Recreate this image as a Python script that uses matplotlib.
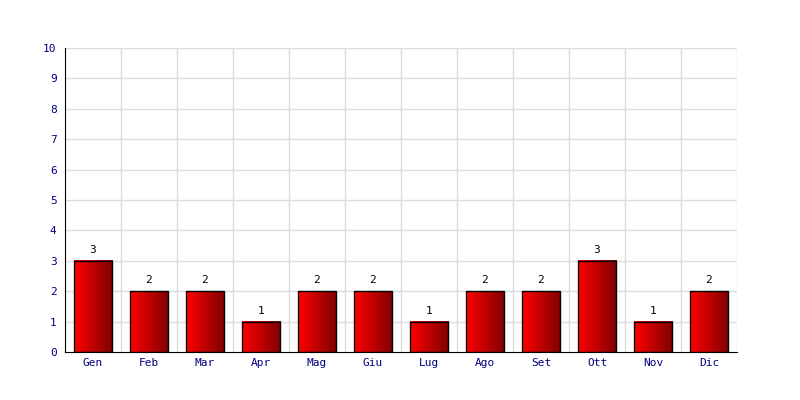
import numpy as np
import matplotlib.pyplot as plt
from matplotlib.colors import LinearSegmentedColormap

months = ['Gen', 'Feb', 'Mar', 'Apr', 'Mag', 'Giu', 'Lug', 'Ago', 'Set', 'Ott', 'Nov', 'Dic']
values = [3, 2, 2, 1, 2, 2, 1, 2, 2, 3, 1, 2]
yticks = list(range(0, 11))

fig = plt.figure(figsize=(8, 4), dpi=100)
ax = fig.add_axes([65/800, 48/400, 672/800, 304/400])

ax.set_xlim(0, 12)
ax.set_ylim(0, 10)

# grid
for y in yticks[1:]:
    ax.axhline(y, color='#dddddd', lw=1, zorder=0)
for x in range(1, 13):
    ax.axvline(x, color='#dddddd', lw=1, zorder=0)

cmap = LinearSegmentedColormap.from_list('redgrad', ['#ff0000', '#800000'])
grad = np.linspace(0, 1, 256).reshape(1, -1)
w = 0.68
for i, v in enumerate(values):
    x0 = i + 0.5 - w/2
    ax.imshow(grad, extent=(x0, x0 + w, 0, v), aspect='auto', cmap=cmap, zorder=2)
    ax.add_patch(plt.Rectangle((x0, 0), w, v, fill=False, ec='black', lw=1, zorder=3))
    ax.text(i + 0.5, v + 0.2, str(v), ha='center', va='bottom', fontsize=8,
            family='DejaVu Sans Mono', color='black')

ax.set_xlim(0, 12)
ax.set_ylim(0, 10)
ax.set_xticks(np.arange(12) + 0.5)
ax.set_xticklabels(months)
ax.set_yticks(yticks)
ax.tick_params(length=0, colors='#000080', labelsize=8)
for lab in ax.get_xticklabels() + ax.get_yticklabels():
    lab.set_family('DejaVu Sans Mono')
ax.tick_params(axis='x', pad=4)
ax.tick_params(axis='y', pad=6)

for s in ['top', 'right']:
    ax.spines[s].set_visible(False)
ax.spines['left'].set_color('black')
ax.spines['bottom'].set_color('black')

fig.savefig('out.png', dpi=100)
